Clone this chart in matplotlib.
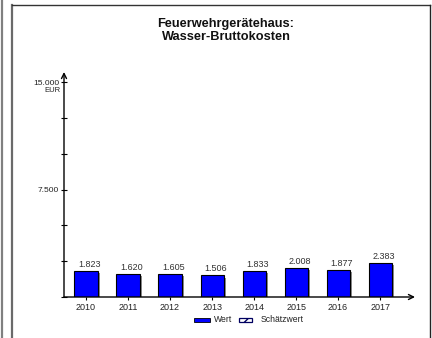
import matplotlib
matplotlib.use("Agg")
import matplotlib.pyplot as plt
import matplotlib.patheffects as pe
from matplotlib.patches import Rectangle
from matplotlib.lines import Line2D

years = ["2010", "2011", "2012", "2013", "2014", "2015", "2016", "2017"]
values = [1823, 1620, 1605, 1506, 1833, 2008, 1877, 2383]
value_labels = ["1.823", "1.620", "1.605", "1.506", "1.833", "2.008", "1.877", "2.383"]
ytick_values = [0, 2500, 5000, 7500, 10000, 12500, 15000]
ytick_labels = ["", "", "", "7.500", "", "", "15.000"]
title = "Feuerwehrgerätehaus:\nWasser-Bruttokosten"

plt.rcParams['font.family'] = ['Liberation Sans', 'DejaVu Sans']

W, H = 432, 338
fig = plt.figure(figsize=(W / 100, H / 100), dpi=100)

def fx(px):
    return px / W

def fy(py):
    return 1 - py / H

# outer frame decorations
fig.add_artist(Line2D([fx(1.5), fx(1.5)], [0, 1], color="#808080", lw=1.6))
fig.add_artist(Line2D([fx(11.5), fx(11.5)], [0, fy(5)], color="#6a6a6a", lw=1.6))
fig.add_artist(Line2D([fx(11.5), fx(429.5)], [fy(5), fy(5)], color="#333333", lw=1.0))
fig.add_artist(Line2D([fx(429.5), fx(429.5)], [0, fy(5)], color="#222222", lw=1.0))

ax = fig.add_axes([fx(64), fy(297), fx(415) - fx(64), fy(72) - fy(297)])
x = list(range(len(years)))
ax.set_xlim(-0.524, 7.83)
ax.set_ylim(0, 15700)

bars = ax.bar(x, values, width=0.55, color="#0000ff", edgecolor="black", linewidth=0.8, zorder=3)
for b in bars:
    b.set_path_effects([pe.SimplePatchShadow(offset=(1.5, -1.5), shadow_rgbFace="#8c8c8c", alpha=1.0), pe.Normal()])

for xi, v, lab in zip(x, values, value_labels):
    ax.annotate(lab, (xi + 0.08, v), xytext=(0, 1.5), textcoords="offset points",
                ha="center", va="bottom", fontsize=6.5, color="#333333")

for s in ["top", "right", "left", "bottom"]:
    ax.spines[s].set_visible(False)
ax.patch.set_alpha(0)

# axes with arrows
ax.annotate("", xy=(0, 1.0), xytext=(0, 0), xycoords="axes fraction",
            arrowprops=dict(arrowstyle="->", lw=1.0, color="black", mutation_scale=9, shrinkA=0, shrinkB=0))
ax.annotate("", xy=(1.0, 0), xytext=(0, 0), xycoords="axes fraction",
            arrowprops=dict(arrowstyle="->", lw=1.0, color="black", mutation_scale=9, shrinkA=0, shrinkB=0))

ax.set_yticks(ytick_values)
ax.set_yticklabels(ytick_labels, fontsize=6, color="#222222")
ax.tick_params(axis="y", direction="inout", length=5, width=0.8, pad=1)
ax.set_xticks(x)
ax.set_xticklabels(years, fontsize=6.5, color="#222222")
ax.tick_params(axis="x", direction="out", length=2.5, width=0.8, pad=2)

fig.text(fx(52), fy(86.5), "EUR", ha="center", va="top", fontsize=5.5, color="#222222")

fig.text(fx(226), fy(18.5), title, ha="center", va="top", fontsize=9.2, fontweight="bold",
         linespacing=1.05, color="#111111")

# legend
fig.add_artist(Rectangle((fx(194), fy(321.5)), fx(16), 3.5 / H, facecolor="#0000ff",
                         edgecolor="black", lw=0.6))
fig.text(fx(214), fy(320), "Wert", ha="left", va="center", fontsize=6.2, color="#222222")
fig.add_artist(Rectangle((fx(239), fy(321.5)), fx(13), 3.5 / H, facecolor="white",
                         edgecolor="#000060", lw=0.9, hatch="////"))
fig.text(fx(261), fy(320), "Schätzwert", ha="left", va="center", fontsize=6.2, color="#222222")

fig.savefig("out.png", dpi=100)
